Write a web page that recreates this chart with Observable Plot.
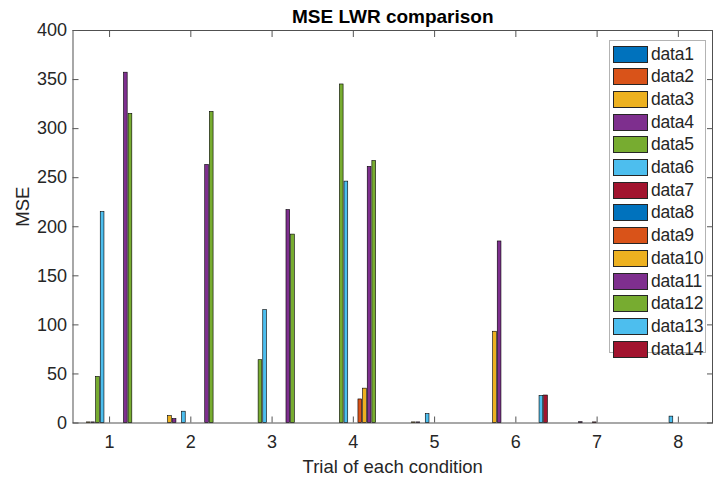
<!DOCTYPE html>
<html><head><meta charset="utf-8">
<script src="https://cdn.jsdelivr.net/npm/d3@7"></script>
<script src="https://cdn.jsdelivr.net/npm/@observablehq/plot@0.6"></script>
<style>
body{margin:0;background:#fff;font-family:"Liberation Sans",Arial,Helvetica,sans-serif;}
#wrap{position:relative;width:713px;height:482px;overflow:hidden;}
#legend{position:absolute;left:609px;top:40px;width:97px;height:313px;border:1px solid #b3b3b3;background:#fff;box-sizing:border-box;}
.item{position:absolute;left:3px;height:17px;display:flex;align-items:center;}
.sw{width:35px;height:17px;border:1px solid #262626;box-sizing:border-box;flex:none;}
.lab{margin-left:3px;font-size:17.5px;color:#262626;letter-spacing:-0.2px;white-space:nowrap;}
</style>
</head><body>
<div id="wrap"><div id="chart"></div><div id="legend"></div></div>
<script>
const groups = [1, 2, 3, 4, 5, 6, 7, 8];
const xTicks = [1, 2, 3, 4, 5, 6, 7, 8];
const yTicks = [0, 50, 100, 150, 200, 250, 300, 350, 400];
const names = ["data1","data2","data3","data4","data5","data6","data7","data8","data9","data10","data11","data12","data13","data14"];
const palette = ["#0072BD","#D95319","#EDB120","#7E2F8E","#77AC30","#4DBEEE","#A2142F"];

const data1  = [0, 0, 0, 0, 0, 0, 0, 0];
const data2  = [0, 0, 0, 0, 0, 0, 0, 0];
const data3  = [0.6, 7, 0, 0, 0.6, 93, 0, 0];
const data4  = [0.6, 4, 0, 0, 0.6, 185, 0.8, 0];
const data5  = [47, 0, 64, 345, 0, 0, 0, 0];
const data6  = [215, 11.5, 115, 246, 9, 0, 0, 6.5];
const data7  = [0, 0, 0, 0, 0, 0, 0.6, 0];
const data8  = [0, 0, 0, 0, 0, 0, 0, 0];
const data9  = [0, 0, 0, 24, 0, 0, 0, 0];
const data10 = [0, 0, 0, 35, 0, 0, 0, 0];
const data11 = [357, 263, 217, 261, 0, 0, 0, 0];
const data12 = [315, 317, 192, 267, 0, 0, 0, 0];
const data13 = [0, 0, 0, 0, 0, 27.5, 0, 0];
const data14 = [0, 0, 0, 0, 0, 28, 0, 0];

const series = [data1,data2,data3,data4,data5,data6,data7,data8,data9,data10,data11,data12,data13,data14];
const colors = names.map((_, i) => palette[i % palette.length]);

const n = series.length;
const step = 0.8 / n;
const bw = step * 0.8;
const rows = [];
series.forEach((vals, i) => vals.forEach((v, g) => {
  if (v > 0) {
    const c = groups[g] + (i - (n - 1) / 2) * step;
    rows.push({name: names[i], x1: c - bw / 2, x2: c + bw / 2, y: v});
  }
}));

const font = '"Liberation Sans", Arial, Helvetica, sans-serif';
const ink = "#262626";

const plot = Plot.plot({
  width: 713, height: 482,
  marginLeft: 72.5, marginRight: 1, marginTop: 30, marginBottom: 59.5,
  style: {fontFamily: font, fontSize: "18px", color: ink, background: "#fff"},
  x: {type: "linear", domain: [0.55, 8.42]},
  y: {domain: [0, 400]},
  color: {domain: names, range: colors},
  marks: [
    Plot.rectY(rows, {x1: "x1", x2: "x2", y1: 0, y2: "y", fill: "name", stroke: "#000", strokeWidth: 0.6}),
    Plot.frame({stroke: ink, strokeWidth: 0.8}),
    Plot.axisX(xTicks, {anchor: "bottom", tickSize: -6, tickPadding: 18, tickFormat: d => d, label: null, stroke: "#555", fill: ink, fontSize: 18}),
    Plot.axisX(xTicks, {anchor: "top", tickSize: -6, tickFormat: () => "", label: null, stroke: "#555"}),
    Plot.axisY(yTicks, {anchor: "left", tickSize: -6, tickPadding: 12, tickFormat: d => d, label: null, stroke: "#555", fill: ink, fontSize: 18}),
    Plot.axisY(yTicks, {anchor: "right", tickSize: -6, tickFormat: () => "", label: null, stroke: "#555"}),
    Plot.text(["MSE LWR comparison"], {frameAnchor: "top", dy: -14, fontWeight: "bold", fontSize: 19, fill: "#000", lineAnchor: "middle"}),
    Plot.text(["Trial of each condition"], {frameAnchor: "bottom", dy: 44, fontSize: 18.5, fill: ink, lineAnchor: "middle"}),
    Plot.text(["MSE"], {frameAnchor: "left", dx: -50, rotate: -90, fontSize: 18.5, fill: ink, lineAnchor: "middle"})
  ]
});
document.getElementById("chart").appendChild(plot);

const legend = document.getElementById("legend");
names.forEach((nm, i) => {
  const it = document.createElement("div");
  it.className = "item";
  it.style.top = (4.5 + i * 22.7) + "px";
  const sw = document.createElement("div");
  sw.className = "sw";
  sw.style.background = colors[i];
  const lb = document.createElement("span");
  lb.className = "lab";
  lb.textContent = nm;
  it.appendChild(sw); it.appendChild(lb);
  legend.appendChild(it);
});
</script>
</body></html>
